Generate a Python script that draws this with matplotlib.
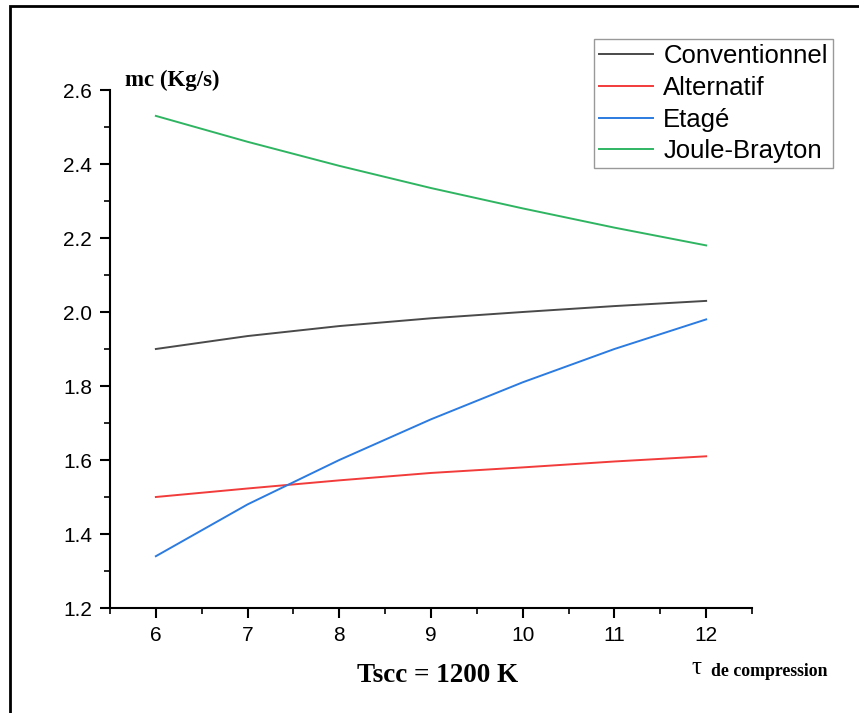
import matplotlib.pyplot as plt
from matplotlib.patches import Rectangle

# compression ratio
tau = [6, 7, 8, 9, 10, 11, 12]

# mass flow (kg/s) per cycle
conventionnel = [1.90, 1.935, 1.962, 1.983, 2.00, 2.016, 2.03]
alternatif = [1.50, 1.523, 1.545, 1.565, 1.58, 1.596, 1.61]
etage = [1.34, 1.48, 1.60, 1.71, 1.81, 1.90, 1.98]
joule_brayton = [2.53, 2.46, 2.395, 2.335, 2.28, 2.228, 2.18]

labels = ['Conventionnel', 'Alternatif', 'Etagé', 'Joule-Brayton']
colors = ['#4a4a4a', '#f23b3b', '#2b7be0', '#2fb562']

plt.rcParams['font.family'] = ['Liberation Sans', 'DejaVu Sans']

fig = plt.figure(figsize=(8.59, 7.13), dpi=100)
ax = fig.add_axes([110 / 859, 1 - 608 / 713, (752 - 110) / 859, (608 - 90) / 713])

for y, lab, c in zip([conventionnel, alternatif, etage, joule_brayton], labels, colors):
    ax.plot(tau, y, color=c, lw=1.4, label=lab)

ax.set_xlim(5.5, 12.5)
ax.set_ylim(1.2, 2.6)
ax.set_xticks(range(6, 13))
ax.set_xticks([x + 0.5 for x in range(5, 13)], minor=True)
ax.set_yticks([1.2, 1.4, 1.6, 1.8, 2.0, 2.2, 2.4, 2.6])
ax.set_yticks([1.3, 1.5, 1.7, 1.9, 2.1, 2.3, 2.5], minor=True)
ax.yaxis.set_major_formatter(plt.FormatStrFormatter('%.1f'))
ax.spines['top'].set_visible(False)
ax.spines['right'].set_visible(False)
for s in ['left', 'bottom']:
    ax.spines[s].set_linewidth(1.5)
ax.tick_params(which='major', direction='out', length=7, width=1.5, labelsize=15, pad=6)
ax.tick_params(which='minor', direction='out', length=4, width=1.2)

leg = ax.legend(loc='upper right', bbox_to_anchor=(833 / 859, 1 - 39 / 713),
                bbox_transform=fig.transFigure, fontsize=18.5, frameon=True,
                fancybox=False, edgecolor='#808080', handlelength=2.1,
                handletextpad=0.4, labelspacing=0.3, borderpad=0.2, borderaxespad=0)
leg.get_frame().set_linewidth(1.0)

serif = ['Liberation Serif', 'DejaVu Serif']
fig.text(125 / 859, 1 - 80 / 713, 'mc (Kg/s)', family=serif, weight='bold',
         fontsize=16.5, va='center', ha='left')
fig.text(438 / 859, 1 - 676 / 713, 'Tscc = 1200 K', family=serif, weight='bold',
         fontsize=19.5, va='center', ha='center')
fig.text(691 / 859, 1 - 668 / 713, 'τ', family=serif, fontsize=18,
         va='center', ha='left')
fig.text(711 / 859, 1 - 671 / 713, 'de compression', family=serif, weight='bold',
         fontsize=12.8, va='center', ha='left')

# outer frame of the original figure
fig.patches.append(Rectangle((10 / 859, -0.1), 1.2, 1 - 6 / 713 + 0.1,
                             transform=fig.transFigure, fill=False,
                             edgecolor='black', lw=2, clip_on=False))

fig.savefig('out.png', dpi=100)
